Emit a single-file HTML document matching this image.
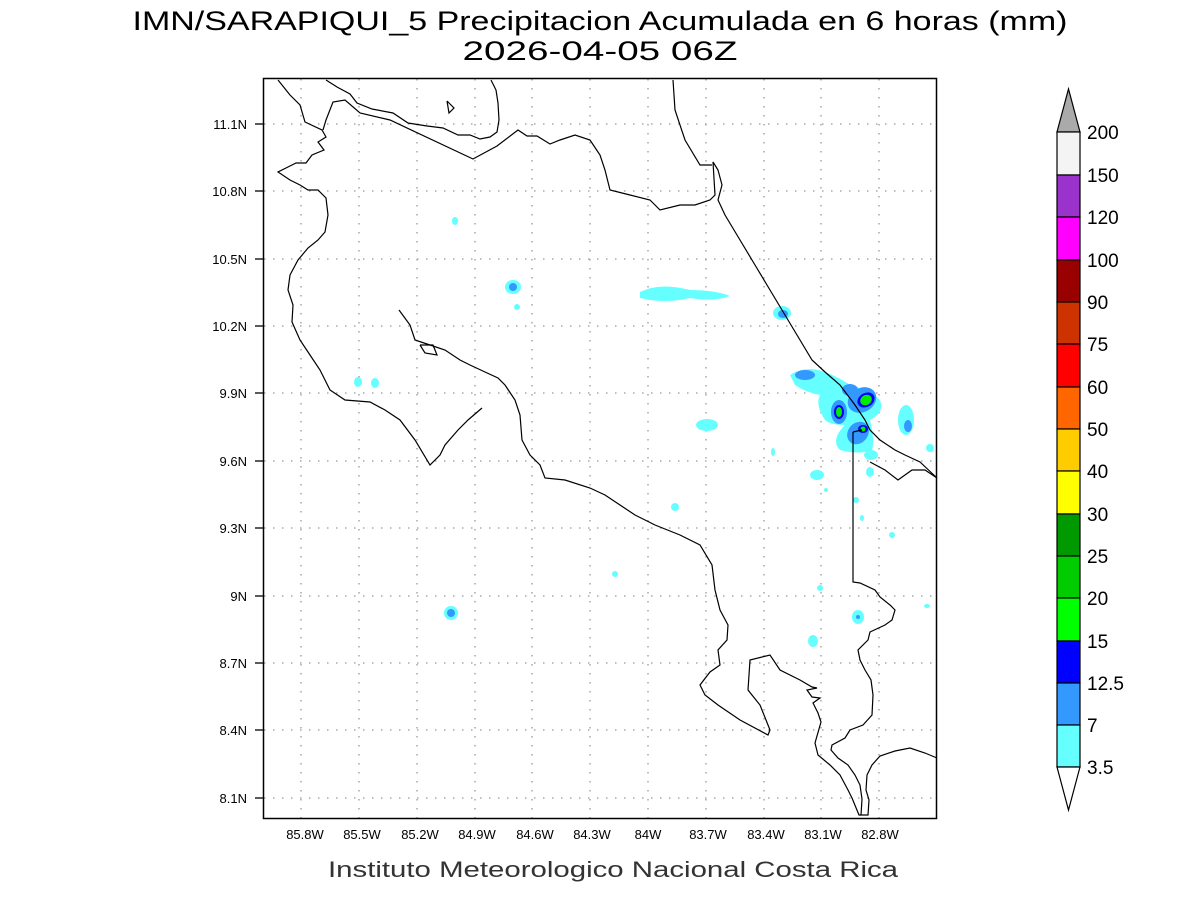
<!DOCTYPE html>
<html><head><meta charset="utf-8"><style>body{margin:0;background:#fff}svg{display:block}</style></head><body>
<svg width="1200" height="900" viewBox="0 0 1200 900" xmlns="http://www.w3.org/2000/svg" font-family="Liberation Sans, sans-serif">
<rect width="1200" height="900" fill="#fff"/>
<text x="600" y="30" font-size="27" text-anchor="middle" textLength="935" lengthAdjust="spacingAndGlyphs">IMN/SARAPIQUI_5 Precipitacion Acumulada en 6 horas (mm)</text>
<text x="600" y="60" font-size="27" text-anchor="middle" textLength="275" lengthAdjust="spacingAndGlyphs">2026-04-05 06Z</text>
<g stroke="#999" stroke-width="1.3" stroke-dasharray="1.5,7.5">
<line x1="301" y1="79" x2="301" y2="818"/><line x1="359" y1="79" x2="359" y2="818"/><line x1="417" y1="79" x2="417" y2="818"/><line x1="475" y1="79" x2="475" y2="818"/><line x1="532" y1="79" x2="532" y2="818"/><line x1="590" y1="79" x2="590" y2="818"/><line x1="648" y1="79" x2="648" y2="818"/><line x1="706" y1="79" x2="706" y2="818"/><line x1="764" y1="79" x2="764" y2="818"/><line x1="821" y1="79" x2="821" y2="818"/><line x1="879" y1="79" x2="879" y2="818"/>
<line x1="264" y1="124" x2="936" y2="124"/><line x1="264" y1="191" x2="936" y2="191"/><line x1="264" y1="259" x2="936" y2="259"/><line x1="264" y1="326" x2="936" y2="326"/><line x1="264" y1="393" x2="936" y2="393"/><line x1="264" y1="461" x2="936" y2="461"/><line x1="264" y1="528" x2="936" y2="528"/><line x1="264" y1="596" x2="936" y2="596"/><line x1="264" y1="663" x2="936" y2="663"/><line x1="264" y1="730" x2="936" y2="730"/><line x1="264" y1="798" x2="936" y2="798"/>
</g>
<g fill="#66ffff">
<ellipse cx="455" cy="221" rx="3" ry="4"/><ellipse cx="513" cy="287" rx="8" ry="7"/><ellipse cx="517" cy="307" rx="3" ry="3"/>
<path d="M640 292 Q660 282 690 290 Q715 290 730 296 Q715 302 690 298 Q665 304 640 298Z"/>
<ellipse cx="782" cy="313" rx="9" ry="7"/><ellipse cx="358" cy="382" rx="4" ry="5"/><ellipse cx="375" cy="383" rx="4" ry="5"/>
<path d="M790 375 Q805 365 825 372 Q840 378 850 385 Q870 390 880 400 Q885 412 870 420 Q875 440 872 450 Q860 455 840 450 Q830 440 845 425 Q830 425 825 420 Q815 405 820 395 Q805 392 795 385Z"/>
<ellipse cx="906" cy="420" rx="8" ry="15"/><ellipse cx="707" cy="425" rx="11" ry="6"/><ellipse cx="871" cy="455" rx="7" ry="5"/>
<ellipse cx="930" cy="448" rx="4" ry="4"/><ellipse cx="817" cy="475" rx="7" ry="5"/><ellipse cx="870" cy="472" rx="4" ry="5"/>
<ellipse cx="675" cy="507" rx="4" ry="4"/><ellipse cx="773" cy="452" rx="2" ry="4"/><ellipse cx="856" cy="500" rx="3" ry="3"/><ellipse cx="862" cy="518" rx="2" ry="3"/><ellipse cx="892" cy="535" rx="3" ry="3"/>
<ellipse cx="615" cy="574" rx="3" ry="3"/><ellipse cx="820" cy="588" rx="3" ry="3"/><ellipse cx="858" cy="617" rx="6" ry="7"/><ellipse cx="451" cy="613" rx="7" ry="7"/><ellipse cx="813" cy="641" rx="5" ry="6"/><ellipse cx="826" cy="490" rx="2" ry="2"/><ellipse cx="927" cy="606" rx="3" ry="2"/>
</g>
<g fill="#3399ff">
<ellipse cx="513" cy="287" rx="4" ry="4"/><ellipse cx="805" cy="375" rx="10" ry="5"/><ellipse cx="783" cy="314" rx="5" ry="4"/>
<ellipse cx="862" cy="400" rx="15" ry="12" transform="rotate(-30 862 400)"/><ellipse cx="839" cy="412" rx="8" ry="12"/><ellipse cx="858" cy="433" rx="10" ry="12" transform="rotate(40 858 433)"/>
<ellipse cx="908" cy="426" rx="4" ry="6"/><ellipse cx="451" cy="613" rx="4" ry="4"/><ellipse cx="850" cy="390" rx="8" ry="6"/><ellipse cx="858" cy="617" rx="2" ry="2"/>
</g>
<g fill="#0000ff"><ellipse cx="866" cy="400" rx="9" ry="7" transform="rotate(-30 866 400)"/><ellipse cx="839" cy="412" rx="5" ry="7"/><ellipse cx="863" cy="429" rx="5" ry="4"/></g>
<g fill="#00ee00"><ellipse cx="866" cy="400" rx="6" ry="5" transform="rotate(-30 866 400)"/><ellipse cx="839" cy="412" rx="3" ry="5"/><ellipse cx="863" cy="429" rx="2.5" ry="2.5"/></g>
<g fill="none" stroke="#000" stroke-width="1.2">
<polyline points="278,80 290,95 300,105 305,122 322,130 326,137 318,142 324,150 312,155 306,163 296,163 290,166 278,172 290,180 300,185 308,190 318,190 326,198 328,215 325,232 318,240 308,248 298,260 290,275 288,290 293,305 292,322 300,340 310,355 320,370 330,390 345,400 370,402 385,410 400,420 415,440 430,465 440,455 445,445 458,430 468,420 482,408"/>
<polyline points="399,310 410,325 415,340 430,345 445,350 460,360 470,365 485,372 498,378 505,385 515,400 520,415 522,440 530,455 540,465 545,478 565,480 590,488 605,495 620,505 635,515 655,525 680,535 700,545 712,565 715,590 720,610 728,625 727,640 718,650 720,665 710,672 700,685 705,695 718,705 740,720 768,735 770,730 760,705 748,690 750,660 770,655 780,670 800,680 812,687 817,688 807,690 812,697 820,698 813,703 818,713 821,722 815,743 818,755 830,765 840,775 848,790 852,798 859,815 861,815"/>
<polyline points="853,432 853,582 860,583 875,590 880,597 890,605 895,610 892,620 885,625 870,632 868,640 858,650 860,660 865,670 871,680 873,695 872,715 863,725 850,730 845,738 832,745 831,750 838,758 848,765 855,775 860,785 862,799 861,815 868,815 869,800 866,790 867,775 872,765 880,756 895,751 910,748 925,753 937,758"/>
<polyline points="853,432 862,430"/>
<polyline points="420,345 433,345 437,355 425,353 420,345"/>
<polyline points="447,101 454,108 449,113 447,101"/>
<polyline points="326,80 337,87 350,94 357,103 372,109 393,113 408,123 427,126 443,128 458,135 470,135 480,139 490,137 497,132 499,120 498,103 496,90 491,80"/>
<polyline points="323,130 326,120 333,102 345,100 360,113 390,120 473,159 497,146 518,130 527,136 537,136 550,144 560,140 575,135 590,140 600,155 605,170 610,190 630,195 650,200 660,210 680,205 695,205 710,200 715,195 713,162 718,170 722,185 718,200 725,215 740,240 755,265 770,290 785,315 800,340 812,360 825,372 840,385 855,405 865,420 870,430 880,440 895,450 905,455 920,462 937,478"/>
<polyline points="673,80 675,110 685,140 700,165 712,165"/>
<polyline points="870,462 885,470 898,480 912,470 925,470 937,478"/>
</g>
<rect x="263.5" y="78.5" width="673" height="740" fill="none" stroke="#000" stroke-width="1.5"/>
<g font-size="13" text-anchor="end">
<text x="247" y="129">11.1N</text><text x="247" y="196">10.8N</text><text x="247" y="264">10.5N</text><text x="247" y="331">10.2N</text><text x="247" y="398">9.9N</text><text x="247" y="466">9.6N</text><text x="247" y="533">9.3N</text><text x="247" y="601">9N</text><text x="247" y="668">8.7N</text><text x="247" y="735">8.4N</text><text x="247" y="803">8.1N</text>
</g>
<g stroke="#000" stroke-width="1.3"><line x1="255" y1="124" x2="263" y2="124"/><line x1="255" y1="191" x2="263" y2="191"/><line x1="255" y1="259" x2="263" y2="259"/><line x1="255" y1="326" x2="263" y2="326"/><line x1="255" y1="393" x2="263" y2="393"/><line x1="255" y1="461" x2="263" y2="461"/><line x1="255" y1="528" x2="263" y2="528"/><line x1="255" y1="596" x2="263" y2="596"/><line x1="255" y1="663" x2="263" y2="663"/><line x1="255" y1="730" x2="263" y2="730"/><line x1="255" y1="798" x2="263" y2="798"/></g>
<g font-size="13" text-anchor="middle">
<text x="305" y="839">85.8W</text><text x="362" y="839">85.5W</text><text x="420" y="839">85.2W</text><text x="477" y="839">84.9W</text><text x="535" y="839">84.6W</text><text x="592" y="839">84.3W</text><text x="648" y="839">84W</text><text x="708" y="839">83.7W</text><text x="766" y="839">83.4W</text><text x="823" y="839">83.1W</text><text x="880" y="839">82.8W</text>
</g>
<text x="613" y="877" font-size="22" text-anchor="middle" fill="#333" textLength="570" lengthAdjust="spacingAndGlyphs">Instituto Meteorologico Nacional Costa Rica</text>
<g stroke="#000" stroke-width="1.2">
<polygon points="1057,132 1080,132 1068.5,89" fill="#aaaaaa"/>
<rect x="1057" y="132" width="23" height="43" fill="#f4f4f4"/>
<rect x="1057" y="175" width="23" height="42" fill="#9933cc"/>
<rect x="1057" y="217" width="23" height="43" fill="#ff00ff"/>
<rect x="1057" y="260" width="23" height="42" fill="#990000"/>
<rect x="1057" y="302" width="23" height="42" fill="#cc3300"/>
<rect x="1057" y="344" width="23" height="43" fill="#ff0000"/>
<rect x="1057" y="387" width="23" height="42" fill="#ff6600"/>
<rect x="1057" y="429" width="23" height="42" fill="#ffcc00"/>
<rect x="1057" y="471" width="23" height="43" fill="#ffff00"/>
<rect x="1057" y="514" width="23" height="42" fill="#009900"/>
<rect x="1057" y="556" width="23" height="42" fill="#00cc00"/>
<rect x="1057" y="598" width="23" height="43" fill="#00ff00"/>
<rect x="1057" y="641" width="23" height="42" fill="#0000ff"/>
<rect x="1057" y="683" width="23" height="42" fill="#3399ff"/>
<rect x="1057" y="725" width="23" height="42" fill="#66ffff"/>
<polygon points="1057,767 1080,767 1068.5,810" fill="#fff"/>
</g>
<g font-size="19">
<text x="1087" y="139">200</text><text x="1087" y="182">150</text><text x="1087" y="224">120</text><text x="1087" y="267">100</text><text x="1087" y="309">90</text><text x="1087" y="351">75</text><text x="1087" y="394">60</text><text x="1087" y="436">50</text><text x="1087" y="478">40</text><text x="1087" y="521">30</text><text x="1087" y="563">25</text><text x="1087" y="605">20</text><text x="1087" y="648">15</text><text x="1087" y="690">12.5</text><text x="1087" y="732">7</text><text x="1087" y="774">3.5</text>
</g>
</svg>
</body></html>
